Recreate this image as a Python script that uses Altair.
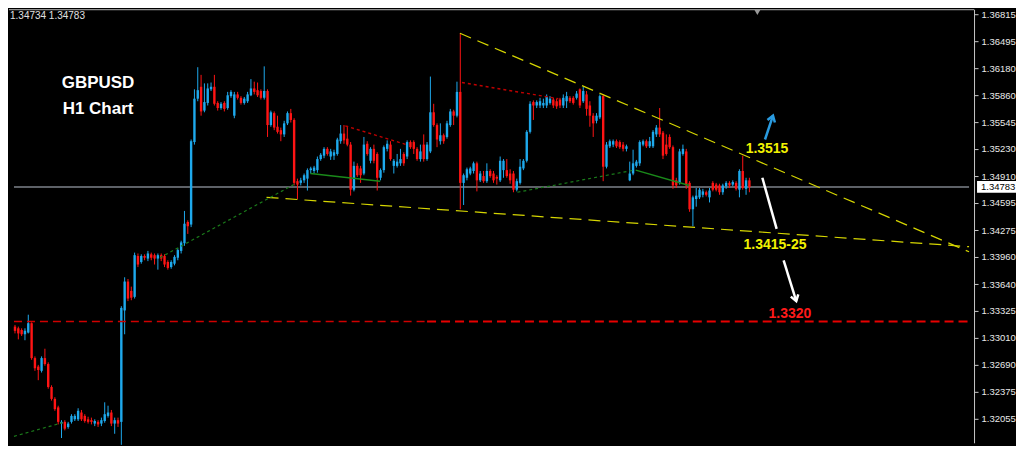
import altair as alt
import pandas as pd

# ---------------- data (GBPUSD H1 candles) ----------------
opens = [
    1.3314, 1.3312, 1.3310, 1.3305, 1.3307, 1.3318, 1.3277, 1.3267, 1.3262, 1.3277,
    1.3270, 1.3243, 1.3229, 1.3219, 1.3200, 1.3202, 1.3196, 1.3202, 1.3205, 1.3205,
    1.3213, 1.3209, 1.3205, 1.3204, 1.3200, 1.3202, 1.3200, 1.3203, 1.3209, 1.3213,
    1.3200, 1.3204, 1.3202, 1.3333, 1.3367, 1.3356, 1.3349, 1.3397, 1.3390, 1.3397,
    1.3394, 1.3399, 1.3398, 1.3394, 1.3398, 1.3397, 1.3390, 1.3384, 1.3388, 1.3395,
    1.3403, 1.3412, 1.3437, 1.3434, 1.3531, 1.3582, 1.3596, 1.3568, 1.3577, 1.3593,
    1.3596, 1.3577, 1.3571, 1.3577, 1.3571, 1.3585, 1.3562, 1.3587, 1.3583, 1.3577,
    1.3579, 1.3586, 1.3594, 1.3592, 1.3591, 1.3583, 1.3591, 1.3551, 1.3565, 1.3549,
    1.3545, 1.3540, 1.3553, 1.3565, 1.3557, 1.3485, 1.3483, 1.3486, 1.3488, 1.3498,
    1.3497, 1.3498, 1.3511, 1.3515, 1.3523, 1.3514, 1.3515, 1.3517, 1.3532, 1.3541,
    1.3535, 1.3528, 1.3475, 1.3503, 1.3500, 1.3494, 1.3529, 1.3509, 1.3523, 1.3517,
    1.3489, 1.3498, 1.3523, 1.3528, 1.3503, 1.3503, 1.3506, 1.3517, 1.3514, 1.3531,
    1.3531, 1.3523, 1.3511, 1.3528, 1.3511, 1.3520, 1.3566, 1.3551, 1.3532, 1.3539,
    1.3537, 1.3551, 1.3567, 1.3562, 1.3590, 1.3483, 1.3489, 1.3494, 1.3497, 1.3506,
    1.3486, 1.3491, 1.3485, 1.3497, 1.3494, 1.3490, 1.3486, 1.3498, 1.3498, 1.3494,
    1.3494, 1.3475, 1.3483, 1.3500, 1.3509, 1.3543, 1.3578, 1.3574, 1.3574, 1.3574,
    1.3574, 1.3577, 1.3581, 1.3579, 1.3581, 1.3574, 1.3579, 1.3583, 1.3583, 1.3583,
    1.3593, 1.3579, 1.3587, 1.3574, 1.3562, 1.3556, 1.3560, 1.3585, 1.3502, 1.3526,
    1.3528, 1.3532, 1.3531, 1.3528, 1.3523, 1.3486, 1.3494, 1.3503, 1.3506, 1.3528,
    1.3532, 1.3526, 1.3526, 1.3540, 1.3548, 1.3542, 1.3528, 1.3537, 1.3525, 1.3486,
    1.3483, 1.3517, 1.3520, 1.3483, 1.3452, 1.3464, 1.3466, 1.3469, 1.3472, 1.3466,
    1.3483, 1.3481, 1.3480, 1.3472, 1.3479, 1.3483, 1.3481, 1.3483, 1.3475, 1.3497,
    1.3476, 1.3486,
]
closes = [
    1.3309, 1.3306, 1.3305, 1.3309, 1.3318, 1.3277, 1.3265, 1.3263, 1.3277, 1.3270,
    1.3243, 1.3229, 1.3217, 1.3202, 1.3202, 1.3194, 1.3200, 1.3209, 1.3209, 1.3215,
    1.3205, 1.3203, 1.3202, 1.3202, 1.3203, 1.3199, 1.3204, 1.3211, 1.3213, 1.3200,
    1.3204, 1.3200, 1.3336, 1.3367, 1.3347, 1.3348, 1.3398, 1.3387, 1.3397, 1.3395,
    1.3400, 1.3395, 1.3394, 1.3398, 1.3394, 1.3387, 1.3383, 1.3390, 1.3396, 1.3404,
    1.3413, 1.3435, 1.3432, 1.3532, 1.3582, 1.3592, 1.3567, 1.3578, 1.3594, 1.3596,
    1.3576, 1.3571, 1.3576, 1.3570, 1.3586, 1.3590, 1.3587, 1.3583, 1.3577, 1.3582,
    1.3587, 1.3594, 1.3590, 1.3586, 1.3583, 1.3591, 1.3551, 1.3566, 1.3548, 1.3543,
    1.3540, 1.3553, 1.3565, 1.3557, 1.3483, 1.3481, 1.3486, 1.3492, 1.3498, 1.3500,
    1.3501, 1.3511, 1.3516, 1.3523, 1.3517, 1.3520, 1.3519, 1.3534, 1.3541, 1.3533,
    1.3528, 1.3475, 1.3503, 1.3492, 1.3492, 1.3528, 1.3517, 1.3523, 1.3509, 1.3489,
    1.3498, 1.3525, 1.3529, 1.3511, 1.3509, 1.3508, 1.3511, 1.3506, 1.3531, 1.3525,
    1.3523, 1.3511, 1.3520, 1.3511, 1.3528, 1.3566, 1.3551, 1.3534, 1.3539, 1.3532,
    1.3553, 1.3567, 1.3562, 1.3590, 1.3483, 1.3492, 1.3499, 1.3500, 1.3506, 1.3486,
    1.3494, 1.3485, 1.3497, 1.3491, 1.3486, 1.3488, 1.3509, 1.3509, 1.3491, 1.3486,
    1.3475, 1.3485, 1.3502, 1.3509, 1.3543, 1.3576, 1.3574, 1.3578, 1.3579, 1.3577,
    1.3584, 1.3582, 1.3574, 1.3573, 1.3574, 1.3583, 1.3585, 1.3579, 1.3577, 1.3588,
    1.3574, 1.3591, 1.3570, 1.3562, 1.3553, 1.3562, 1.3585, 1.3502, 1.3528, 1.3532,
    1.3532, 1.3526, 1.3525, 1.3523, 1.3526, 1.3494, 1.3506, 1.3508, 1.3531, 1.3532,
    1.3526, 1.3532, 1.3543, 1.3548, 1.3540, 1.3515, 1.3517, 1.3525, 1.3480, 1.3480,
    1.3520, 1.3523, 1.3480, 1.3452, 1.3466, 1.3468, 1.3475, 1.3473, 1.3469, 1.3474,
    1.3475, 1.3475, 1.3472, 1.3480, 1.3483, 1.3480, 1.3484, 1.3476, 1.3497, 1.3477,
    1.3486, 1.3478,
]
highs = [
    1.3316, 1.3314, 1.3312, 1.3312, 1.3328, 1.3319, 1.3279, 1.3269, 1.3279, 1.3288,
    1.3272, 1.3245, 1.3231, 1.3221, 1.3204, 1.3204, 1.3202, 1.3211, 1.3211, 1.3218,
    1.3216, 1.3211, 1.3208, 1.3207, 1.3205, 1.3204, 1.3207, 1.3225, 1.3221, 1.3216,
    1.3207, 1.3207, 1.3338, 1.3372, 1.3370, 1.3361, 1.3401, 1.3400, 1.3399, 1.3399,
    1.3403, 1.3401, 1.3400, 1.3400, 1.3400, 1.3399, 1.3392, 1.3392, 1.3398, 1.3406,
    1.3415, 1.3450, 1.3439, 1.3534, 1.3593, 1.3619, 1.3610, 1.3600, 1.3600, 1.3601,
    1.3610, 1.3579, 1.3578, 1.3579, 1.3590, 1.3592, 1.3590, 1.3590, 1.3585, 1.3584,
    1.3590, 1.3605, 1.3602, 1.3601, 1.3593, 1.3620, 1.3593, 1.3568, 1.3567, 1.3562,
    1.3548, 1.3556, 1.3567, 1.3570, 1.3559, 1.3488, 1.3489, 1.3494, 1.3500, 1.3502,
    1.3503, 1.3514, 1.3518, 1.3525, 1.3525, 1.3523, 1.3522, 1.3536, 1.3551, 1.3551,
    1.3550, 1.3531, 1.3508, 1.3506, 1.3503, 1.3537, 1.3532, 1.3525, 1.3528, 1.3519,
    1.3500, 1.3527, 1.3533, 1.3532, 1.3511, 1.3517, 1.3523, 1.3519, 1.3533, 1.3533,
    1.3533, 1.3525, 1.3528, 1.3540, 1.3531, 1.3608, 1.3576, 1.3553, 1.3553, 1.3541,
    1.3556, 1.3570, 1.3569, 1.3602, 1.3659, 1.3494, 1.3501, 1.3502, 1.3508, 1.3508,
    1.3497, 1.3497, 1.3506, 1.3499, 1.3497, 1.3492, 1.3514, 1.3511, 1.3511, 1.3499,
    1.3497, 1.3488, 1.3511, 1.3511, 1.3545, 1.3579, 1.3580, 1.3580, 1.3583, 1.3582,
    1.3587, 1.3585, 1.3583, 1.3582, 1.3583, 1.3587, 1.3590, 1.3585, 1.3585, 1.3591,
    1.3594, 1.3596, 1.3591, 1.3579, 1.3565, 1.3565, 1.3587, 1.3587, 1.3531, 1.3534,
    1.3534, 1.3534, 1.3533, 1.3531, 1.3528, 1.3508, 1.3522, 1.3510, 1.3533, 1.3534,
    1.3534, 1.3537, 1.3545, 1.3551, 1.3571, 1.3544, 1.3540, 1.3540, 1.3527, 1.3489,
    1.3523, 1.3528, 1.3523, 1.3485, 1.3468, 1.3477, 1.3477, 1.3476, 1.3474, 1.3477,
    1.3485, 1.3483, 1.3482, 1.3482, 1.3485, 1.3485, 1.3486, 1.3485, 1.3499, 1.3515,
    1.3489, 1.3489,
]
lows = [
    1.3306, 1.3299, 1.3303, 1.3298, 1.3306, 1.3275, 1.3262, 1.3251, 1.3260, 1.3268,
    1.3241, 1.3227, 1.3215, 1.3199, 1.3183, 1.3192, 1.3194, 1.3200, 1.3203, 1.3203,
    1.3203, 1.3201, 1.3200, 1.3199, 1.3197, 1.3196, 1.3197, 1.3201, 1.3207, 1.3197,
    1.3188, 1.3196, 1.3175, 1.3305, 1.3344, 1.3345, 1.3347, 1.3384, 1.3388, 1.3392,
    1.3391, 1.3392, 1.3387, 1.3381, 1.3391, 1.3384, 1.3381, 1.3382, 1.3386, 1.3392,
    1.3400, 1.3409, 1.3423, 1.3431, 1.3528, 1.3579, 1.3562, 1.3566, 1.3574, 1.3591,
    1.3574, 1.3568, 1.3569, 1.3567, 1.3569, 1.3583, 1.3559, 1.3581, 1.3575, 1.3575,
    1.3577, 1.3585, 1.3587, 1.3584, 1.3581, 1.3581, 1.3537, 1.3549, 1.3545, 1.3541,
    1.3532, 1.3537, 1.3551, 1.3554, 1.3480, 1.3464, 1.3480, 1.3483, 1.3474, 1.3494,
    1.3494, 1.3495, 1.3509, 1.3512, 1.3515, 1.3510, 1.3510, 1.3515, 1.3529, 1.3529,
    1.3526, 1.3468, 1.3473, 1.3490, 1.3483, 1.3492, 1.3515, 1.3506, 1.3506, 1.3474,
    1.3486, 1.3495, 1.3520, 1.3509, 1.3494, 1.3501, 1.3503, 1.3503, 1.3511, 1.3523,
    1.3517, 1.3509, 1.3508, 1.3508, 1.3509, 1.3518, 1.3549, 1.3525, 1.3528, 1.3529,
    1.3535, 1.3549, 1.3551, 1.3560, 1.3452, 1.3457, 1.3486, 1.3492, 1.3494, 1.3473,
    1.3484, 1.3483, 1.3483, 1.3489, 1.3483, 1.3481, 1.3484, 1.3489, 1.3489, 1.3482,
    1.3472, 1.3473, 1.3481, 1.3498, 1.3507, 1.3541, 1.3557, 1.3571, 1.3571, 1.3571,
    1.3571, 1.3575, 1.3571, 1.3570, 1.3571, 1.3571, 1.3571, 1.3577, 1.3575, 1.3581,
    1.3571, 1.3577, 1.3562, 1.3549, 1.3537, 1.3553, 1.3558, 1.3485, 1.3500, 1.3524,
    1.3525, 1.3524, 1.3523, 1.3520, 1.3520, 1.3485, 1.3492, 1.3501, 1.3503, 1.3526,
    1.3524, 1.3524, 1.3524, 1.3537, 1.3537, 1.3511, 1.3515, 1.3523, 1.3476, 1.3477,
    1.3481, 1.3515, 1.3476, 1.3449, 1.3432, 1.3455, 1.3464, 1.3466, 1.3467, 1.3460,
    1.3473, 1.3473, 1.3469, 1.3469, 1.3476, 1.3477, 1.3479, 1.3474, 1.3466, 1.3475,
    1.3469, 1.3472,
]

price_ticks = [1.36815, 1.36495, 1.36180, 1.35860, 1.35545, 1.35230, 1.34910,
               1.34595, 1.34275, 1.33960, 1.33640, 1.33325, 1.33010, 1.32690,
               1.32375, 1.32055]
last_price = 1.34783
price_range = [1.31774, 1.36872]
bar_range = [-0.3, 287.1]

# drawn objects (bar index, price)
upper_line_x, upper_line_p = [133.9, 287.1], [1.3659, 1.3402]
lower_line_x, lower_line_p = [75.7, 287.1], [1.3466, 1.3408]
res1_x, res1_p = [99.4, 117.8], [1.3550, 1.3528]
res2_x, res2_p = [134.5, 163.5], [1.3601, 1.3582]
sup_dot1_x, sup_dot1_p = [-0.3, 14.3], [1.3185, 1.3201]
sup_dot2_x, sup_dot2_p = [43.6, 83.9], [1.3395, 1.3481]
sup_dot3_x, sup_dot3_p = [151.2, 186.3], [1.3472, 1.3498]
sup_sol1_x, sup_sol1_p = [88.9, 109.9], [1.3494, 1.3485]
sup_sol2_x, sup_sol2_p = [186.8, 202.9], [1.3498, 1.3480]
target_level = 1.3320
target_split = 124.0
blue_arrow_x, blue_arrow_p = [225.7, 228.1], [1.3534, 1.3562]
white_line_x, white_line_p = [224.9, 229.2], [1.3489, 1.3429]
white_arrow_x, white_arrow_p = [231.3, 235.1], [1.3392, 1.3344]

labels_text = ["1.3515", "1.3415-25"]
labels_x = [226.3, 228.7]
labels_p = [1.3518, 1.3405]
target_text, target_x, target_p = "1.3320", 233.2, 1.3324
title_lines = ["GBPUSD", "H1 Chart"]
title_x = [25.0, 25.0]
title_p = [1.3595, 1.3564]

# ---------------- chart ----------------
W, H = 966, 434
n = len(opens)
candles = pd.DataFrame({
    "i": list(range(n)),
    "o": opens, "c": closes,
    "h": [max(h, o, c) for h, o, c in zip(highs, opens, closes)],
    "l": [min(l, o, c) for l, o, c in zip(lows, opens, closes)],
})
candles["dir"] = ["up" if c >= o else "down" for o, c in zip(opens, closes)]

xs = alt.Scale(domain=bar_range, nice=False, zero=False)
ys = alt.Scale(domain=price_range, nice=False, zero=False)
col = alt.Color("dir:N", scale=alt.Scale(domain=["up", "down"], range=["#1ea9ec", "#ff1414"]), legend=None)

y_axis = alt.Axis(orient="right", values=price_ticks, format=".5f", grid=False,
                  tickSize=4, tickColor="#c8c8c8", domainColor="#c8c8c8",
                  labelColor="#e8e8e8", labelFont="Liberation Sans", labelFontSize=9.5,
                  labelPadding=3, title=None, labelFlush=False, labelOverlap=False)
no_x_axis = None


def Y(field):
    return alt.Y(field, scale=ys, axis=y_axis)


def X(field):
    return alt.X(field, scale=xs, axis=no_x_axis)


def seg(xv, pv, color, dash=None, width=1.0):
    df = pd.DataFrame({"x1": [xv[0]], "x2": [xv[1]], "p1": [pv[0]], "p2": [pv[1]]})
    kw = dict(color=color, strokeWidth=width)
    if dash:
        kw["strokeDash"] = dash
    return alt.Chart(df).mark_rule(**kw).encode(
        x=X("x1:Q"), x2="x2:Q", y=Y("p1:Q"), y2="p2:Q")


cur_line = seg(bar_range, [last_price, last_price], "#5d6167", width=2)

wicks = alt.Chart(candles).mark_rule(strokeWidth=1).encode(
    x=X("i:Q"), y=Y("l:Q"), y2="h:Q", color=col)
bodies = alt.Chart(candles).mark_bar(width=2.4).encode(
    x=X("i:Q"), y=Y("o:Q"), y2="c:Q", color=col)

layers = [cur_line, wicks, bodies,
          seg([bar_range[0], target_split], [target_level, target_level], "#d00000", [8, 5], 1.4),
          seg([target_split, bar_range[1]], [target_level, target_level], "#e80000", [9, 5], 1.8),
          seg(upper_line_x, upper_line_p, "#d6d600", [12, 7], 1.2),
          seg(lower_line_x, lower_line_p, "#d6d600", [12, 7], 1.2),
          seg(res1_x, res1_p, "#c00000", [3, 3], 1.4),
          seg(res2_x, res2_p, "#c00000", [3, 3], 1.4),
          seg(sup_dot1_x, sup_dot1_p, "#1a7a1a", [3, 3], 1.2),
          seg(sup_dot2_x, sup_dot2_p, "#1a7a1a", [3, 3], 1.2),
          seg(sup_dot3_x, sup_dot3_p, "#1a7a1a", [3, 3], 1.2),
          seg(sup_sol1_x, sup_sol1_p, "#1a8a1a", None, 1.5),
          seg(sup_sol2_x, sup_sol2_p, "#1a8a1a", None, 1.5),
          seg(blue_arrow_x, blue_arrow_p, "#2a9be0", None, 2.5),
          seg(white_line_x, white_line_p, "#ffffff", None, 2.5),
          seg(white_arrow_x, white_arrow_p, "#ffffff", None, 2.5),
          ]

chevron = "M -0.6 0.9 L 0 0 L 0.6 0.9"
for ax, ap, c, ang in [(blue_arrow_x[1], blue_arrow_p[1], "#2a9be0", 18),
                       (white_arrow_x[1], white_arrow_p[1], "#ffffff", 163)]:
    df = pd.DataFrame({"x": [ax], "p": [ap]})
    layers.append(alt.Chart(df).mark_point(shape=chevron, filled=False, size=170,
                                           strokeWidth=2.5, color=c, angle=ang, opacity=1).encode(
        x=X("x:Q"), y=Y("p:Q")))


def text_layer(txts, xv, pv, color, size):
    df = pd.DataFrame({"t": txts, "x": xv, "p": pv})
    return alt.Chart(df).mark_text(color=color, fontSize=size, fontWeight="bold",
                                   font="Liberation Sans", align="center", baseline="alphabetic").encode(
        x=X("x:Q"), y=Y("p:Q"), text="t:N")


layers.append(text_layer(title_lines, title_x, title_p, "#ffffff", 17))
layers.append(text_layer(labels_text, labels_x, labels_p, "#f2f200", 14))
layers.append(text_layer([target_text], [target_x], [target_p], "#ff1a1a", 14))

# chart frame, top info text, shift marker and current price box
price_box = pd.DataFrame({"p": [last_price], "t": ["1.34783"]})
layers.append(alt.Chart(price_box).mark_rule(color="#b4b4b4", strokeWidth=1).encode(
    x=alt.value(0), x2=alt.value(W), y=alt.value(0.5)))
layers.append(alt.Chart(price_box).mark_text(
    color="#e0e0e0", fontSize=10, font="Liberation Sans", align="left", baseline="middle").encode(
    x=alt.value(1), y=alt.value(7), text=alt.value("1.34734 1.34783")))
layers.append(alt.Chart(pd.DataFrame({"x": [223.4]})).mark_point(
    shape="triangle-down", filled=True, size=40, color="#9a9a9a", opacity=1).encode(
    x=X("x:Q"), y=alt.value(3)))
layers.append(alt.Chart(price_box).mark_rect(color="#ffffff", height=12).encode(
    x=alt.value(W + 3), x2=alt.value(W + 42), y=Y("p:Q")))
layers.append(alt.Chart(price_box).mark_text(color="#000000", fontSize=9.5, font="Liberation Sans",
                                             align="left", baseline="middle").encode(
    x=alt.value(W + 7), y=Y("p:Q"), text="t:N"))

chart = alt.layer(*layers).properties(width=W, height=H, padding=0).configure(
    background="#000000").configure_view(stroke=None)

chart.save("out.html", embed_options={"renderer": "svg", "actions": False})
